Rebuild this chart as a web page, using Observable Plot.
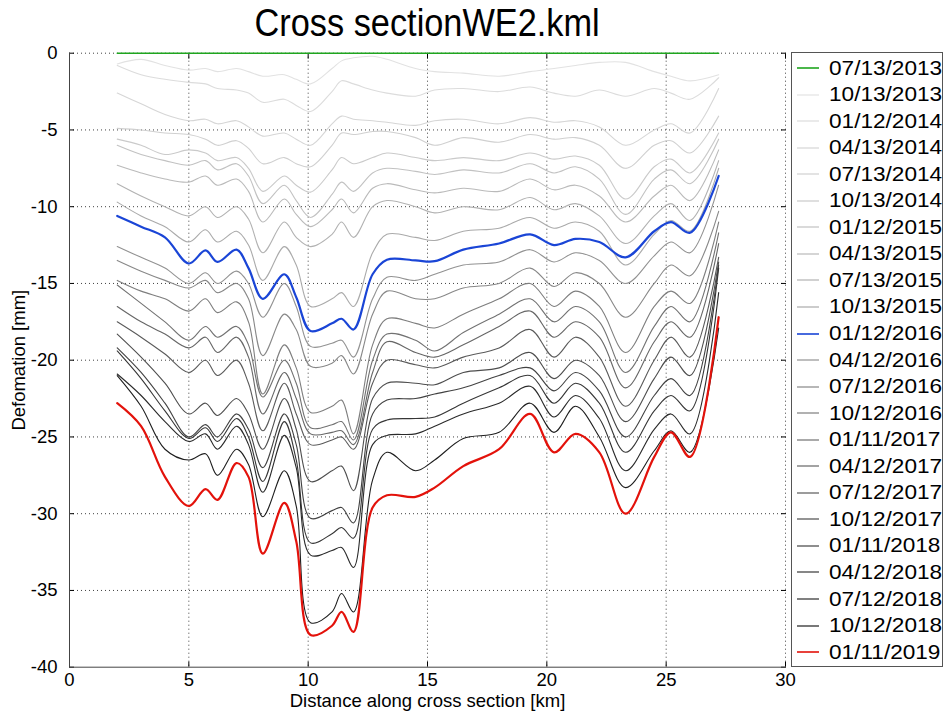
<!DOCTYPE html>
<html><head><meta charset="utf-8">
<script src="https://cdn.jsdelivr.net/npm/d3@7"></script>
<script src="https://cdn.jsdelivr.net/npm/@observablehq/plot@0.6"></script>
<style>
body{margin:0;background:#fff;font-family:"Liberation Sans",Arial,sans-serif;}
#wrap{position:relative;width:948px;height:715px;overflow:hidden;background:#fff}
#title{position:absolute;left:0;top:3px;width:854px;text-align:center;font-size:39px;line-height:40px;color:#000}
#title span{display:inline-block;transform:scaleX(0.88);transform-origin:center}
#chart{position:absolute;left:0;top:44px;}
#legend{position:absolute;left:791px;top:52px;width:152px;height:615px;border:1px solid #555;box-sizing:border-box;background:#fff}
.item{position:absolute;left:0;height:26px;display:flex;align-items:center;font-size:20px;color:#000;white-space:nowrap}
.item svg{margin-left:5px;margin-right:10px}
.item span{display:inline-block;transform:scaleX(1.13);transform-origin:left center}
</style></head><body>
<div id="wrap"><div id="title"><span>Cross sectionWE2.kml</span></div><div id="chart"></div><div id="legend"></div></div>
<script>
// distances along the section (km) at which values were read
const X = [2, 3, 4, 5, 5.7, 6.2, 7, 7.5, 8.1, 9, 9.5, 10.1, 11, 11.4, 11.9, 12.7, 13.3, 14.5, 15.3, 16.5, 18, 19.3, 20.3, 21.2, 22.2, 23.3, 24.5, 25.2, 26, 27.2];

const dates = ["07/13/2013","10/13/2013","01/12/2014","04/13/2014","07/13/2014","10/13/2014","01/12/2015","04/13/2015","07/13/2015","10/13/2015","01/12/2016","04/12/2016","07/12/2016","10/12/2016","01/11/2017","04/12/2017","07/12/2017","10/12/2017","01/11/2018","04/12/2018","07/12/2018","10/12/2018","01/11/2019"];

const d2013_07 = [0,0,0,0,0,0,0,0,0,0,0,0,0,0,0,0,0,0,0,0,0,0,0,0,0,0,0,0,0,0];
const d2013_10 = [-0.7,-0.4,-0.8,-1.1,-1.0,-1.2,-1.0,-1.2,-1.5,-1.4,-1.7,-2.0,-1.0,-0.5,-0.3,-0.2,-0.4,-1.0,-1.2,-1.3,-1.5,-1.2,-1.0,-0.8,-0.6,-0.6,-1.2,-1.5,-1.8,-1.4];
const d2014_01 = [-0.8,-1.4,-1.7,-1.9,-2.0,-2.3,-2.4,-2.6,-3.2,-3.0,-3.4,-3.8,-2.5,-1.8,-2.0,-2.4,-2.6,-2.8,-2.4,-2.3,-2.5,-2.2,-2.6,-2.8,-2.4,-2.8,-2.3,-2.6,-3.0,-1.6];
const d2014_04 = [-2.6,-3.3,-4.0,-4.4,-4.3,-4.6,-4.4,-4.8,-5.4,-5.2,-5.6,-6.0,-4.6,-4.1,-4.3,-4.4,-4.5,-4.7,-4.4,-4.3,-4.6,-4.2,-4.5,-4.4,-4.8,-6.0,-5.0,-4.6,-5.2,-2.3];
const d2014_07 = [-4.9,-5.0,-5.2,-5.3,-5.6,-6.0,-5.7,-6.2,-7.2,-6.8,-7.2,-7.4,-6.0,-5.2,-5.3,-5.1,-5.1,-5.5,-6.0,-5.5,-5.8,-5.3,-5.6,-5.5,-6.0,-7.5,-6.0,-5.7,-6.5,-4.1];
const d2014_10 = [-5.6,-6.0,-6.6,-6.3,-6.5,-7.0,-6.8,-7.5,-9.0,-8.0,-8.6,-9.05,-7.6,-6.8,-7.2,-6.8,-6.5,-6.8,-7.0,-6.8,-7.0,-6.5,-6.9,-6.7,-7.3,-9.5,-7.4,-6.9,-7.8,-5.2];
const d2015_01 = [-6.0,-6.6,-7.0,-7.3,-7.0,-7.6,-7.2,-8.0,-9.8,-8.6,-9.6,-10.7,-9.2,-8.4,-9.0,-7.8,-7.5,-7.7,-7.9,-7.6,-7.8,-7.2,-7.8,-7.4,-8.2,-10.5,-8.2,-7.6,-8.5,-5.6];
const d2015_04 = [-7.3,-7.8,-8.2,-8.4,-8.0,-8.6,-8.2,-9.0,-11.0,-9.5,-10.5,-11.3,-10.2,-9.5,-10.4,-8.8,-8.5,-8.9,-9.1,-8.8,-9.0,-8.2,-8.9,-8.6,-9.3,-11.0,-9.3,-8.6,-9.6,-6.3];
const d2015_07 = [-8.5,-9.3,-10.0,-10.6,-10.0,-10.7,-10.0,-10.8,-13.0,-11.0,-12.0,-12.6,-11.8,-11.0,-12.0,-10.0,-9.6,-10.0,-10.4,-10.0,-10.2,-9.4,-10.2,-9.8,-10.6,-12.4,-10.6,-9.8,-10.9,-7.0];
const d2015_10 = [-9.7,-10.6,-11.3,-12.3,-11.5,-12.3,-11.6,-12.5,-14.8,-12.6,-13.8,-16.5,-16.0,-15.6,-16.5,-13.0,-11.8,-12.0,-12.2,-11.6,-11.4,-10.7,-11.4,-11.0,-11.6,-13.8,-11.8,-10.9,-11.6,-7.5];
const d2016_01 = [-10.6,-11.3,-12.0,-13.7,-12.85,-13.6,-12.8,-14.0,-16.0,-14.4,-15.9,-18.1,-17.6,-17.3,-18.0,-14.4,-13.45,-13.5,-13.55,-12.8,-12.4,-11.8,-12.5,-12.1,-12.3,-13.3,-11.6,-11.0,-11.7,-8.0];
const d2016_04 = [-12.6,-13.3,-14.0,-15.0,-14.3,-15.0,-14.2,-15.0,-17.2,-15.0,-16.5,-19.1,-18.9,-18.7,-19.8,-16.0,-14.6,-14.8,-14.4,-13.8,-13.6,-12.8,-13.6,-13.0,-13.5,-15.0,-13.2,-12.3,-13.0,-8.6];
const d2016_07 = [-13.5,-14.2,-14.8,-15.3,-14.8,-15.6,-15.0,-16.0,-19.7,-17.0,-18.0,-20.4,-20.2,-19.7,-20.9,-17.0,-15.5,-16.0,-16.0,-15.3,-15.0,-14.0,-15.2,-14.3,-15.0,-17.2,-15.0,-13.8,-14.5,-10.3];
const d2016_10 = [-14.8,-15.5,-16.0,-16.8,-16.0,-16.9,-16.2,-17.5,-22.2,-19.0,-20.5,-23.4,-23.0,-22.6,-24.8,-19.0,-17.3,-17.6,-17.9,-17.0,-16.0,-15.0,-16.5,-15.5,-16.5,-19.5,-16.5,-15.5,-16.3,-11.0];
const d2017_01 = [-15.1,-16.3,-17.5,-18.7,-17.8,-18.5,-17.8,-19.0,-22.4,-20.0,-21.5,-24.4,-24.2,-24.0,-25.2,-20.0,-18.3,-18.7,-19.4,-18.2,-17.0,-16.0,-17.5,-16.5,-17.5,-20.8,-17.8,-16.5,-17.5,-11.7];
const d2017_04 = [-16.5,-17.5,-18.3,-19.2,-18.5,-19.5,-18.5,-19.8,-23.5,-20.8,-22.5,-24.8,-24.7,-24.6,-25.5,-20.8,-18.8,-19.5,-19.8,-19.0,-17.8,-16.8,-18.5,-17.5,-18.5,-21.8,-18.8,-17.5,-18.5,-12.4];
const d2017_07 = [-17.5,-18.5,-19.6,-20.8,-20.0,-21.0,-20.0,-21.5,-24.6,-21.5,-23.5,-25.5,-25.2,-25.0,-25.8,-21.5,-20.0,-20.3,-20.5,-19.8,-19.2,-18.0,-19.8,-18.5,-19.8,-23.0,-20.0,-18.5,-19.8,-13.3];
const d2017_10 = [-18.3,-19.8,-21.5,-23.5,-22.8,-23.6,-22.5,-23.5,-25.8,-22.5,-24.5,-27.9,-27.2,-26.9,-28.5,-22.5,-21.5,-21.5,-21.6,-20.8,-20.5,-19.5,-21.2,-20.0,-21.0,-24.0,-21.2,-19.8,-21.0,-13.6];
const d2018_01 = [-19.2,-20.8,-22.8,-25.0,-24.2,-25.0,-23.5,-24.5,-27.0,-23.5,-25.5,-30.3,-29.8,-29.6,-30.6,-23.5,-22.6,-22.5,-22.2,-21.8,-21.0,-20.5,-22.0,-20.8,-22.0,-25.0,-22.3,-21.2,-22.3,-13.8];
const d2018_04 = [-19.4,-21.2,-23.3,-25.1,-24.4,-25.3,-23.8,-25.0,-27.9,-24.0,-26.5,-31.9,-31.3,-30.9,-31.6,-24.5,-23.9,-23.8,-23.7,-22.8,-21.8,-21.0,-22.8,-21.5,-22.8,-26.0,-23.3,-22.3,-23.3,-14.0];
const d2018_07 = [-20.9,-22.3,-24.0,-25.3,-24.8,-25.8,-24.3,-25.5,-28.6,-24.9,-27.0,-32.7,-32.4,-32.2,-33.5,-25.5,-24.9,-24.8,-24.3,-23.5,-22.8,-21.7,-23.7,-22.3,-23.8,-27.2,-24.5,-23.5,-24.8,-15.6];
const d2018_10 = [-21.0,-23.0,-25.8,-26.5,-26.1,-27.5,-25.8,-26.8,-30.2,-27.2,-29.5,-37.1,-36.4,-35.2,-36.4,-27.8,-26.0,-27.2,-26.5,-25.1,-24.7,-22.8,-24.7,-23.0,-25.0,-28.3,-25.9,-24.6,-26.0,-17.9];
const d2019_01 = [-22.8,-24.3,-27.6,-29.5,-28.4,-29.1,-26.7,-27.6,-32.6,-29.3,-31.8,-37.9,-37.3,-36.4,-37.7,-29.6,-28.8,-28.9,-28.3,-26.9,-25.8,-23.5,-26.0,-24.8,-26.0,-30.0,-26.3,-24.7,-26.3,-17.2];

const values = [d2013_07,d2013_10,d2014_01,d2014_04,d2014_07,d2014_10,d2015_01,d2015_04,d2015_07,d2015_10,d2016_01,d2016_04,d2016_07,d2016_10,d2017_01,d2017_04,d2017_07,d2017_10,d2018_01,d2018_04,d2018_07,d2018_10,d2019_01];

const xTicks = [0, 5, 10, 15, 20, 25, 30];
const yTicks = [0, -5, -10, -15, -20, -25, -30, -35, -40];

// styles
const colors = ["#1fa51f","#e2e2e2","#dcdcdc","#d6d6d6","#d0d0d0","#cacaca","#c2c2c2","#bababa","#b2b2b2","#aaaaaa","#1a45d6","#929292","#888888","#7e7e7e","#727272","#666666","#5a5a5a","#4e4e4e","#424242","#363636","#2a2a2a","#1e1e1e","#e3120b"];
const widths = dates.map((d,i) => i===10 || i===22 ? 2.2 : (i===0 ? 1.4 : 1.1));

const rows = values.flatMap((v,k) => v.map((y,i) => ({x: X[i], y, k})));

const chart = Plot.plot({
  width: 790, height: 671,
  marginTop: 8.7, marginBottom: 48.3, marginLeft: 69, marginRight: 5,
  x: {domain: [0, 30]},
  y: {domain: [-40, 0]},
  style: {fontFamily: '"Liberation Sans", Arial, sans-serif', fontSize: "18px", color: "#000", background: "#fff", overflow: "visible"},
  marks: [
    Plot.gridX(xTicks.slice(1), {stroke: "#000", strokeOpacity: 0.75, strokeDasharray: "1,3"}),
    Plot.gridY(yTicks.slice(0, -1), {stroke: "#000", strokeOpacity: 0.75, strokeDasharray: "1,3"}),
    Plot.axisX(xTicks, {tickSize: -5, tickPadding: 11, tickFormat: d => String(d), label: "Distance along cross section [km]", labelAnchor: "center", labelArrow: "none", labelOffset: 40, fontSize: 18.5}),
    Plot.axisY(yTicks, {tickSize: -5, tickPadding: 17, tickFormat: d => String(d), label: "Defomation [mm]", labelAnchor: "center", labelArrow: "none", labelOffset: 58, fontSize: 18.5}),
    Plot.axisX(xTicks, {anchor: "top", tickSize: -5, tickFormat: () => "", label: null}),
    Plot.axisY(yTicks, {anchor: "right", tickSize: -5, tickFormat: () => "", label: null}),
    Plot.ruleX([0], {stroke: "#444"}),
    Plot.ruleY([-40], {stroke: "#444"}),
    ...values.map((v, k) => Plot.line(rows.filter(r => r.k === k), {x: "x", y: "y", stroke: colors[k], strokeWidth: widths[k], curve: "catmull-rom"}))
  ]
});
document.getElementById("chart").appendChild(chart);

const legend = document.getElementById("legend");
dates.forEach((d, k) => {
  const it = document.createElement("div");
  it.className = "item";
  it.style.top = (2 + k * 26.55) + "px";
  it.innerHTML = `<svg width="22" height="4"><line x1="0" x2="22" y1="2" y2="2" stroke="${colors[k]}" stroke-width="${k===0||k===10||k===22?1.6:1.2}"/></svg><span>${d}</span>`;
  legend.appendChild(it);
});
</script></body></html>
